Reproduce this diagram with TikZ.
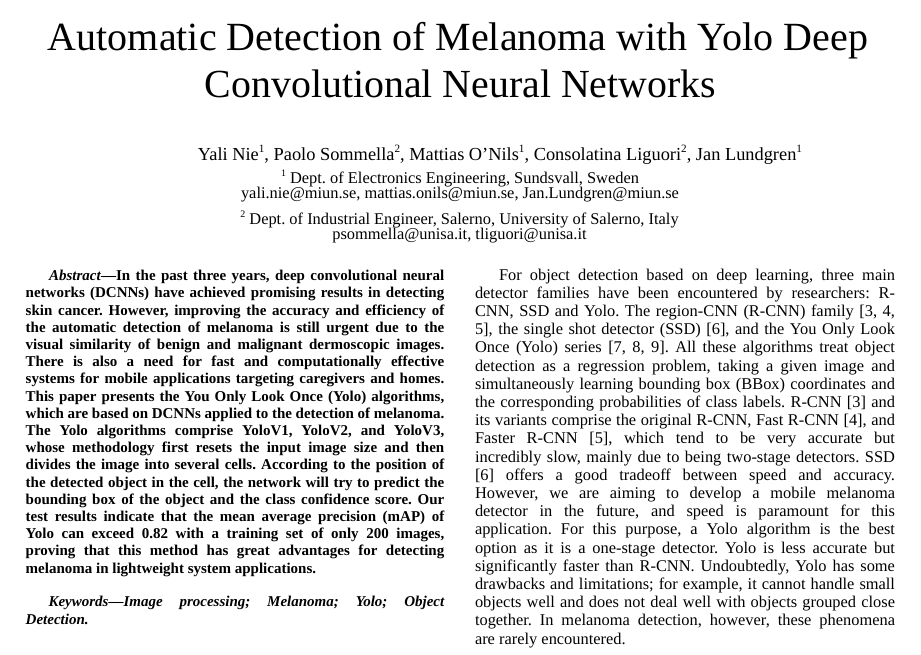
\documentclass[tikz,border=0pt]{standalone}
\usepackage{fontspec}
\setmainfont{Liberation Serif}
\usepackage{graphicx}
\frenchspacing
\newcommand\jst[2]{\makebox[#1][s]{#2}}
\newcommand\sups[1]{\raisebox{0.42em}{\fontsize{10}{10}\selectfont #1}}
\begin{document}
\begin{tikzpicture}[x=1pt,y=1pt,
  hdr/.style={anchor=base,inner sep=0pt,outer sep=0pt},
  abs/.style={anchor=base west,inner sep=0pt,outer sep=0pt,font=\fontsize{15}{17}\selectfont\bfseries},
  kw/.style={anchor=base west,inner sep=0pt,outer sep=0pt,font=\fontsize{15}{17}\selectfont\bfseries\itshape},
  body/.style={anchor=base west,inner sep=0pt,outer sep=0pt,font=\fontsize{16.4}{18}\selectfont}]
\useasboundingbox (0,0) rectangle (921,-654);
\fill[white] (0,0) rectangle (921,-654);
% ---------- header ----------
\node[hdr] (t1) at (458,-50) {\resizebox{820pt}{!}{\fontsize{40}{40}\selectfont Automatic Detection of Melanoma with Yolo Deep}};
\node[hdr] (t2) at (460.5,-97) {\resizebox{511pt}{!}{\fontsize{40}{40}\selectfont Convolutional Neural Networks}};
\node[hdr] (au) at (500,-160.7) {\resizebox{604pt}{!}{\fontsize{16.4}{16.4}\selectfont Yali Nie\sups{1}, Paolo Sommella\sups{2}, Mattias O’Nils\sups{1}, Consolatina Liguori\sups{2}, Jan Lundgren\sups{1}}};
\node[hdr] (af1) at (460,-183) {\fontsize{16.4}{14.5}\selectfont\setlength\tabcolsep{0pt}\begin{tabular}[t]{c}\sups{1} Dept. of Electronics Engineering, Sundsvall, Sweden\\ yali.nie@miun.se, mattias.onils@miun.se, Jan.Lundgren@miun.se\end{tabular}};
\node[hdr] (af2) at (459.5,-224) {\fontsize{16.4}{14}\selectfont\setlength\tabcolsep{0pt}\begin{tabular}[t]{c}\sups{2} Dept. of Industrial Engineer, Salerno, University of Salerno, Italy\\ psommella@unisa.it, tliguori@unisa.it\end{tabular}};
% ---------- left column (abstract) ----------
\node[abs] (l0) at (49,-280.7) {\jst{395.3pt}{\textit{Abstract}---In the past three years, deep convolutional neural}};
\node[abs] (l1) at (25.7,-297.9) {\jst{418.6pt}{networks (DCNNs) have achieved promising results in detecting}};
\node[abs] (l2) at (25.7,-315.1) {\jst{418.6pt}{skin cancer. However, improving the accuracy and efficiency of}};
\node[abs] (l3) at (25.7,-332.3) {\jst{418.6pt}{the automatic detection of melanoma is still urgent due to the}};
\node[abs] (l4) at (25.7,-349.5) {\jst{418.6pt}{visual similarity of benign and malignant dermoscopic images.}};
\node[abs] (l5) at (25.7,-366.7) {\jst{418.6pt}{There is also a need for fast and computationally effective}};
\node[abs] (l6) at (25.7,-383.9) {\jst{418.6pt}{systems for mobile applications targeting caregivers and homes.}};
\node[abs] (l7) at (25.7,-401.1) {\jst{418.6pt}{This paper presents the You Only Look Once (Yolo) algorithms,}};
\node[abs] (l8) at (25.7,-418.3) {\jst{418.6pt}{which are based on DCNNs applied to the detection of melanoma.}};
\node[abs] (l9) at (25.7,-435.5) {\jst{418.6pt}{The Yolo algorithms comprise YoloV1, YoloV2, and YoloV3,}};
\node[abs] (l10) at (25.7,-452.7) {\jst{418.6pt}{whose methodology first resets the input image size and then}};
\node[abs] (l11) at (25.7,-469.9) {\jst{418.6pt}{divides the image into several cells. According to the position of}};
\node[abs] (l12) at (25.7,-487.1) {\jst{418.6pt}{the detected object in the cell, the network will try to predict the}};
\node[abs] (l13) at (25.7,-504.3) {\jst{418.6pt}{bounding box of the object and the class confidence score. Our}};
\node[abs] (l14) at (25.7,-521.5) {\jst{418.6pt}{test results indicate that the mean average precision (mAP) of}};
\node[abs] (l15) at (25.7,-538.7) {\jst{418.6pt}{Yolo can exceed 0.82 with a training set of only 200 images,}};
\node[abs] (l16) at (25.7,-555.9) {\jst{418.6pt}{proving that this method has great advantages for detecting}};
\node[abs] (l17) at (25.7,-573.1) {melanoma in lightweight system applications.};
\node[kw] (k0) at (48.5,-606.7) {\jst{395.8pt}{Keywords---Image processing; Melanoma; Yolo; Object}};
\node[kw] (k1) at (25.7,-624) {Detection.};
% ---------- right column ----------
\node[body] (r0) at (499,-280) {\jst{396pt}{For object detection based on deep learning, three main}};
\node[body] (r1) at (475,-298.2) {\jst{420pt}{detector families have been encountered by researchers: R-}};
\node[body] (r2) at (475,-316.4) {\jst{420pt}{CNN, SSD and Yolo. The region-CNN (R-CNN) family [3, 4,}};
\node[body] (r3) at (475,-334.6) {\jst{420pt}{5], the single shot detector (SSD) [6], and the You Only Look}};
\node[body] (r4) at (475,-352.8) {\jst{420pt}{Once (Yolo) series [7, 8, 9]. All these algorithms treat object}};
\node[body] (r5) at (475,-371) {\jst{420pt}{detection as a regression problem, taking a given image and}};
\node[body] (r6) at (475,-389.2) {\jst{420pt}{simultaneously learning bounding box (BBox) coordinates and}};
\node[body] (r7) at (475,-407.4) {\jst{420pt}{the corresponding probabilities of class labels. R-CNN [3] and}};
\node[body] (r8) at (475,-425.6) {\jst{420pt}{its variants comprise the original R-CNN, Fast R-CNN [4], and}};
\node[body] (r9) at (475,-443.8) {\jst{420pt}{Faster R-CNN [5], which tend to be very accurate but}};
\node[body] (r10) at (475,-462) {\jst{420pt}{incredibly slow, mainly due to being two-stage detectors. SSD}};
\node[body] (r11) at (475,-480.2) {\jst{420pt}{[6] offers a good tradeoff between speed and accuracy.}};
\node[body] (r12) at (475,-498.4) {\jst{420pt}{However, we are aiming to develop a mobile melanoma}};
\node[body] (r13) at (475,-516.6) {\jst{420pt}{detector in the future, and speed is paramount for this}};
\node[body] (r14) at (475,-534.8) {\jst{420pt}{application. For this purpose, a Yolo algorithm is the best}};
\node[body] (r15) at (475,-553) {\jst{420pt}{option as it is a one-stage detector. Yolo is less accurate but}};
\node[body] (r16) at (475,-571.2) {\jst{420pt}{significantly faster than R-CNN. Undoubtedly, Yolo has some}};
\node[body] (r17) at (475,-589.4) {\jst{420pt}{drawbacks and limitations; for example, it cannot handle small}};
\node[body] (r18) at (475,-607.6) {\jst{420pt}{objects well and does not deal well with objects grouped close}};
\node[body] (r19) at (475,-625.8) {\jst{420pt}{together. In melanoma detection, however, these phenomena}};
\node[body] (r20) at (475,-644) {are rarely encountered.};
\end{tikzpicture}
\end{document}
